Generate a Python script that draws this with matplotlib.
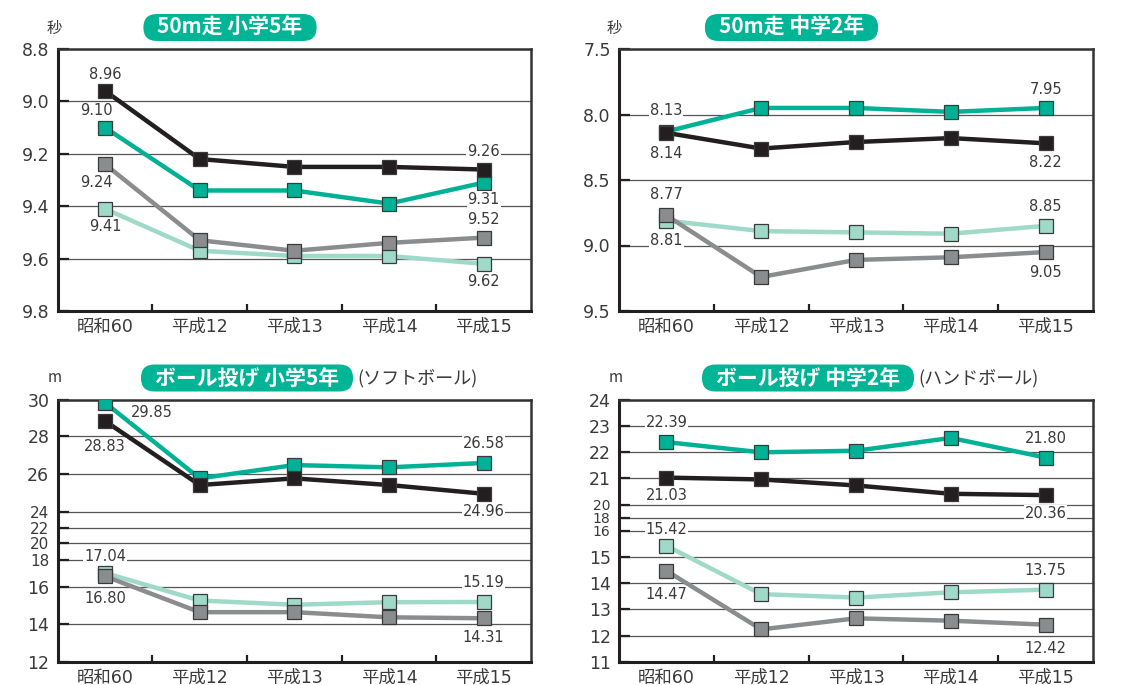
import numpy as np
import matplotlib
matplotlib.use("Agg")
import matplotlib.pyplot as plt
from matplotlib.patches import FancyBboxPatch
from matplotlib.transforms import IdentityTransform

plt.rcParams['font.family'] = ['DejaVu Sans', 'Noto Sans CJK JP']

# ---------------- data ----------------
categories = ['昭和60', '平成12', '平成13', '平成14', '平成15']

# 50m走 小学5年 (秒)
run_e5_black = [8.96, 9.22, 9.25, 9.25, 9.26]
run_e5_teal = [9.10, 9.34, 9.34, 9.39, 9.31]
run_e5_gray = [9.24, 9.53, 9.57, 9.54, 9.52]
run_e5_light = [9.41, 9.57, 9.59, 9.59, 9.62]

# 50m走 中学2年 (秒)
run_j2_black = [8.14, 8.26, 8.21, 8.18, 8.22]
run_j2_teal = [8.13, 7.95, 7.95, 7.98, 7.95]
run_j2_gray = [8.77, 9.24, 9.11, 9.09, 9.05]
run_j2_light = [8.81, 8.89, 8.90, 8.91, 8.85]

# ボール投げ 小学5年 (m)
throw_e5_black = [28.83, 25.42, 25.77, 25.42, 24.96]
throw_e5_teal = [29.85, 25.77, 26.47, 26.35, 26.58]
throw_e5_gray = [16.80, 14.64, 14.64, 14.36, 14.31]
throw_e5_light = [17.04, 15.27, 15.04, 15.18, 15.19]

# ボール投げ 中学2年 (m)
throw_j2_black = [21.03, 20.96, 20.73, 20.41, 20.36]
throw_j2_teal = [22.39, 22.00, 22.06, 22.55, 21.80]
throw_j2_gray = [14.47, 12.24, 12.66, 12.57, 12.42]
throw_j2_light = [15.42, 13.58, 13.45, 13.65, 13.75]

# tick labels
yticks_run_e5 = [8.8, 9.0, 9.2, 9.4, 9.6, 9.8]
yticks_run_j2 = [7.5, 8.0, 8.5, 9.0, 9.5]
yticks_throw_e5 = [12, 14, 16, 18, 20, 22, 24, 26, 28, 30]
yticks_throw_j2 = [11, 12, 13, 14, 15, 16, 18, 20, 21, 22, 23, 24]

# ---------------- styles ----------------
W, H = 1145, 685
COL = {'light': '#9fd9c7', 'gray': '#8b8c8e', 'teal': '#00b195', 'black': '#231f20'}
ORDER = ['light', 'gray', 'teal', 'black']
TXT = '#3a3a3a'

# broken-axis scale positions (relative heights) for ball-throw panels
pos_throw_e5 = [0, 38, 75, 102, 119, 134, 150, 188, 226, 262]
pos_throw_j2 = [0, 26.3, 52.6, 78.9, 105.2, 131.5, 144.5, 157.5, 183.6, 209.7, 235.8, 262]
# tick labels drawn smaller in the compressed part of the axis
compressed_e5 = [18, 20, 22, 24]
compressed_j2 = [16, 18, 20]

fig = plt.figure(figsize=(W / 100, H / 100), dpi=100)


def rect(x0, x1, y0, y1):
    return [x0 / W, (H - y1) / H, (x1 - x0) / W, (y1 - y0) / H]


def make_panel(r, series, yticks, ylim, ticklabels, labels, scale=None, small=(), small_size=10):
    ax = fig.add_axes(r)
    x = np.arange(len(categories))
    if scale is not None:
        vals, pos = scale
        ax.set_yscale('function', functions=(
            lambda v: np.interp(v, vals, pos),
            lambda p: np.interp(p, pos, vals)))
    for key in ORDER:
        ax.plot(x, series[key], color=COL[key], lw=3.2, marker='s', ms=10,
                mfc=COL[key], mec='#3a3a3a', mew=0.9, zorder=3,
                solid_joinstyle='miter')
    ax.set_xlim(-0.5, len(categories) - 0.5)
    ax.set_ylim(*ylim)
    ax.set_yticks(yticks)
    ax.set_yticklabels(ticklabels)
    ax.yaxis.set_minor_locator(matplotlib.ticker.NullLocator())
    ax.set_xticks(x)
    ax.set_xticklabels(categories)
    ax.set_xticks(x[:-1] + 0.5, minor=True)
    ax.tick_params(axis='y', which='major', direction='in', length=8, width=1.6,
                   color='#231f20', labelsize=12.5, labelcolor=TXT, pad=6)
    ax.tick_params(axis='x', which='major', length=0, labelsize=12.5,
                   labelcolor=TXT, pad=5)
    ax.tick_params(axis='x', which='minor', direction='in', length=5, width=1.6,
                   color='#231f20')
    for v, lab in zip(yticks, ax.get_yticklabels()):
        if v in small:
            lab.set_fontsize(small_size)
    ax.yaxis.grid(True, color='#555555', lw=0.9, zorder=1)
    ax.set_axisbelow(True)
    for s in ['left', 'bottom']:
        ax.spines[s].set_linewidth(2.2)
        ax.spines[s].set_color('#231f20')
    for s in ['top', 'right']:
        ax.spines[s].set_linewidth(1.8)
        ax.spines[s].set_color('#333333')
    for key, i, dx, dy in labels:
        v = series[key][i]
        ax.annotate(f'{v:.2f}', (x[i], v), xytext=(dx, dy), textcoords='offset points',
                    ha='center', va='center', fontsize=10.5, color=TXT, zorder=5,
                    bbox=dict(fc='white', ec='none', pad=0.6))
    return ax


def fmt(vals, nd):
    return [f'{v:.{nd}f}' for v in vals]


# top-left
make_panel(rect(57.7, 531, 49, 311),
           {'black': run_e5_black, 'teal': run_e5_teal, 'gray': run_e5_gray, 'light': run_e5_light},
           yticks_run_e5, (9.8, 8.8), fmt(yticks_run_e5, 1),
           [('black', 0, 0, 12), ('teal', 0, -6, 12), ('gray', 0, -6, -13), ('light', 0, 0, -13),
            ('black', 4, 0, 13), ('teal', 4, 0, -12), ('gray', 4, 0, 13), ('light', 4, 0, -13)])

# top-right
make_panel(rect(619, 1093, 49, 311),
           {'black': run_j2_black, 'teal': run_j2_teal, 'gray': run_j2_gray, 'light': run_j2_light},
           yticks_run_j2, (9.5, 7.5), fmt(yticks_run_j2, 1),
           [('teal', 0, 0, 15), ('black', 0, 0, -15), ('teal', 4, 0, 13), ('black', 4, 0, -14),
            ('gray', 0, 0, 15), ('light', 0, 0, -14), ('light', 4, 0, 14), ('gray', 4, 0, -15)])

# bottom-left
make_panel(rect(57.7, 531, 400, 662),
           {'black': throw_e5_black, 'teal': throw_e5_teal, 'gray': throw_e5_gray, 'light': throw_e5_light},
           yticks_throw_e5, (12, 30), [str(v) for v in yticks_throw_e5],
           [('teal', 0, 34, -7), ('black', 0, 0, -18), ('teal', 4, 0, 14), ('black', 4, 0, -13),
            ('light', 0, 0, 12), ('gray', 0, 0, -16), ('light', 4, 0, 14), ('gray', 4, 0, -14)],
           scale=(yticks_throw_e5, pos_throw_e5), small=compressed_e5, small_size=11)

# bottom-right
make_panel(rect(619, 1093, 400, 662),
           {'black': throw_j2_black, 'teal': throw_j2_teal, 'gray': throw_j2_gray, 'light': throw_j2_light},
           yticks_throw_j2, (11, 24), [str(v) for v in yticks_throw_j2],
           [('teal', 0, 0, 14), ('black', 0, 0, -13), ('teal', 4, 0, 14), ('black', 4, 0, -13),
            ('light', 0, 0, 12), ('gray', 0, 0, -17), ('light', 4, 0, 14), ('gray', 4, 0, -17)],
           scale=(yticks_throw_j2, pos_throw_j2), small=compressed_j2, small_size=10)

# unit labels
for (ux, uy, t) in [(54, 28, '秒'), (614, 28, '秒'), (55, 378, 'm'), (616, 378, 'm')]:
    fig.text(ux / W, 1 - uy / H, t, ha='center', va='center', fontsize=11, color=TXT,
             family=['Noto Sans CJK JP', 'DejaVu Sans'])

# titles
titles = [(230, 27.5, '50m走 小学5年', None),
          (791.5, 27.5, '50m走 中学2年', None),
          (247, 378, 'ボール投げ 小学5年', '(ソフトボール)'),
          (808, 378, 'ボール投げ 中学2年', '(ハンドボール)')]
title_texts = []
for cx, cy, t, sub in titles:
    tt = fig.text(cx / W, 1 - cy / H, t, ha='center', va='center', fontsize=15,
                  color='white', weight='bold', family=['Noto Sans CJK JP', 'DejaVu Sans'],
                  zorder=10)
    title_texts.append(tt)

fig.canvas.draw()
renderer = fig.canvas.get_renderer()
for (cx, cy, t, sub), tt in zip(titles, title_texts):
    bb = tt.get_window_extent(renderer)
    bw = bb.width + 28
    bh = 27
    x0 = cx - bw / 2
    y0 = (H - cy) - bh / 2
    patch = FancyBboxPatch((x0, y0), bw, bh, boxstyle='round,pad=0,rounding_size=13.5',
                           fc='#00b496', ec='none', transform=IdentityTransform(), zorder=9)
    fig.add_artist(patch)
    if sub:
        fig.text((x0 + bw + 4) / W, 1 - cy / H, sub, ha='left', va='center', fontsize=13,
                 color=TXT, family=['Noto Sans CJK JP', 'DejaVu Sans'])

fig.savefig('out.png', dpi=100)
